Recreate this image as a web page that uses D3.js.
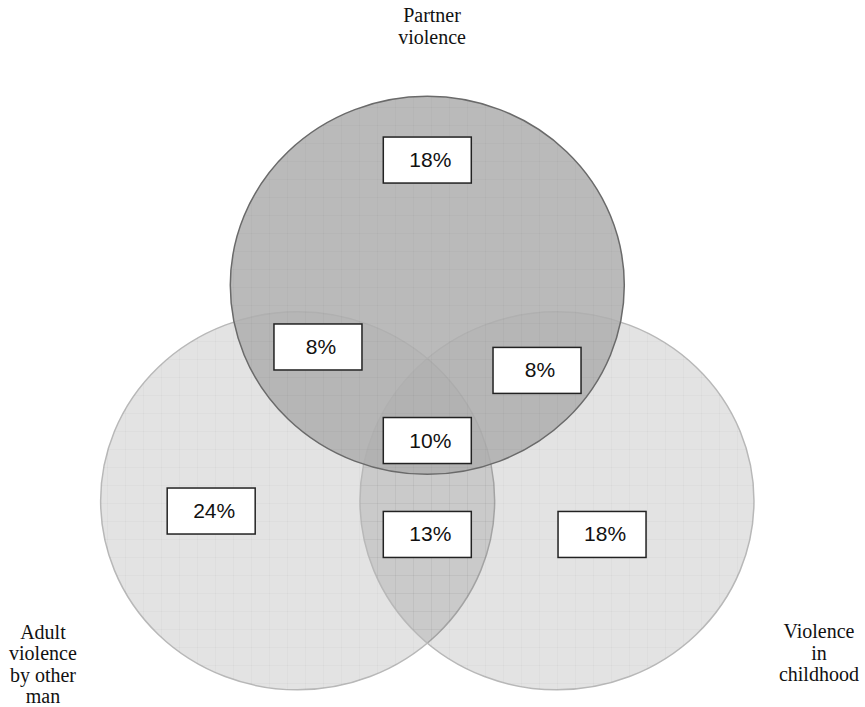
<!DOCTYPE html>
<html lang="en">
<head>
	<meta charset="utf-8">
	<title>Venn: overlapping forms of violence</title>
	<script type="text/javascript" src="https://d3js.org/d3.v7.min.js"></script>
	<style type="text/css">
		body { margin: 0; background: #fff; }
	</style>
</head>
<body>
	<script type="text/javascript">

        // the three sets (top, left, right)
        var setNames = ["Partner violence", "Adult violence by other man", "Violence in childhood"];
        var setLines = [["Partner", "violence"], ["Adult", "violence", "by other", "man"], ["Violence", "in", "childhood"]];

        // region shares, per region of the diagram
        var regionKeys = ["P", "PA", "PV", "PAV", "A", "AV", "V"];
        var regionValues = [18, 8, 8, 10, 24, 13, 18];

        var width = 865, height = 707;

        // layout in unit space: circle radius 1, centres on a triangle round the origin
        var spread = 0.76;
        var angles = [90, 210, 330];
        var circles = angles.map(function(a, i) {
            var t = a * Math.PI / 180;
            return { name: setNames[i], ux: spread * Math.cos(t), uy: spread * Math.sin(t) };
        });

        // where each region's box sits (unit space)
        var regionAnchor = {
            P:   [0.0, 1.423],
            PA:  [-0.555, 0.434],
            PV:  [0.557, 0.310],
            PAV: [0.0, -0.061],
            A:   [-1.097, -0.434],
            AV:  [0.0, -0.558],
            V:   [0.887, -0.558]
        };
        var setLabelAnchor = [[0.024, 2.153], [-1.951, -1.111], [1.988, -1.106]];

        var x = d3.scaleLinear().domain([0, 1]).range([427.3, 427.3 + 197]);
        var y = d3.scaleLinear().domain([0, 1]).range([429, 429 - 189]);

        var svg = d3.select("body")
            .append("svg")
            .attr("width", width)
            .attr("height", height);

        var defs = svg.append("defs");
        var pat = defs.append("pattern")
            .attr("id", "grid")
            .attr("patternUnits", "userSpaceOnUse")
            .attr("width", 18)
            .attr("height", 18);
        pat.append("path")
            .attr("d", "M18 0 V18 M0 18 H18")
            .attr("stroke", "rgba(0,0,0,0.045)")
            .attr("stroke-width", 1)
            .attr("fill", "none");

        function ellipse(sel, d) {
            return sel.attr("cx", x(d.ux))
                .attr("cy", y(d.uy))
                .attr("rx", x(1) - x(0))
                .attr("ry", y(0) - y(1));
        }

        // left and right first, light and see-through
        [circles[1], circles[2]].forEach(function(d) {
            ellipse(svg.append("ellipse"), d)
                .attr("fill", "#000")
                .attr("fill-opacity", 0.11)
                .attr("stroke", "#b8b8b8")
                .attr("stroke-width", 1.5);
            ellipse(svg.append("ellipse"), d)
                .attr("fill", "url(#grid)");
        });

        // partner violence on top, darker and almost opaque
        ellipse(svg.append("ellipse"), circles[0])
            .attr("fill", "rgb(174,174,174)")
            .attr("fill-opacity", 0.85);
        ellipse(svg.append("ellipse"), circles[0])
            .attr("fill", "url(#grid)");
        ellipse(svg.append("ellipse"), circles[0])
            .attr("fill", "none")
            .attr("stroke", "#6a6a6a")
            .attr("stroke-width", 1.5);

        // region boxes
        var boxW = 88, boxH = 46;
        var box = svg.selectAll(".region")
            .data(regionKeys.map(function(k, i) { return { key: k, value: regionValues[i] }; }))
            .enter()
            .append("g")
            .attr("class", "region")
            .attr("transform", function(d) {
                var a = regionAnchor[d.key];
                return "translate(" + x(a[0]) + "," + y(a[1]) + ")";
            });

        box.append("rect")
            .attr("x", -boxW / 2)
            .attr("y", -boxH / 2)
            .attr("width", boxW)
            .attr("height", boxH)
            .attr("fill", "#fff")
            .attr("stroke", "#222")
            .attr("stroke-width", 1.5);

        box.append("text")
            .attr("x", 3)
            .attr("y", 7)
            .attr("text-anchor", "middle")
            .attr("font-family", "Liberation Sans, Arial, sans-serif")
            .attr("font-size", 21)
            .attr("fill", "#111")
            .text(function(d) { return d.value + "%"; });

        // set labels
        setLines.forEach(function(lines, i) {
            var a = setLabelAnchor[i];
            var t = svg.append("text")
                .attr("font-family", "Liberation Serif, Times New Roman, serif")
                .attr("font-size", 20)
                .attr("fill", "#111")
                .attr("text-anchor", "middle");
            lines.forEach(function(l, j) {
                t.append("tspan")
                    .attr("x", x(a[0]))
                    .attr("y", y(a[1]) + j * 21.5)
                    .text(l);
            });
        });

	</script>
</body>
</html>
